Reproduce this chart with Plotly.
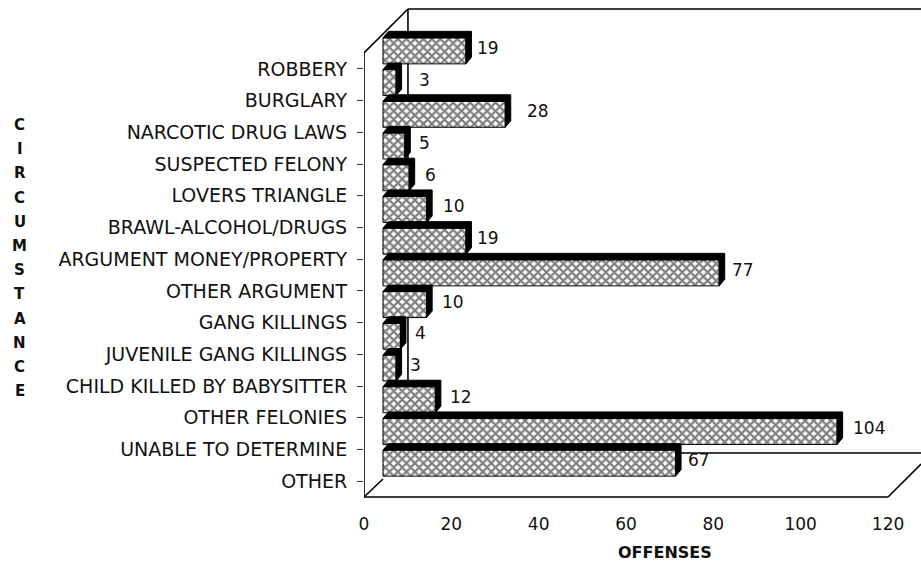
import plotly.graph_objects as go

categories = ["ROBBERY", "BURGLARY", "NARCOTIC DRUG LAWS", "SUSPECTED FELONY", "LOVERS TRIANGLE",
              "BRAWL-ALCOHOL/DRUGS", "ARGUMENT MONEY/PROPERTY", "OTHER ARGUMENT", "GANG KILLINGS",
              "JUVENILE GANG KILLINGS", "CHILD KILLED BY BABYSITTER", "OTHER FELONIES",
              "UNABLE TO DETERMINE", "OTHER"]
offenses = [19, 3, 28, 5, 6, 10, 19, 77, 10, 4, 3, 12, 104, 67]
x_ticks = [0, 20, 40, 60, 80, 100, 120]
title_letters = list("CIRCUMSTANCE")

# styling / layout (pixels in the page)
W, H = 921, 563
L, R, T, B = 363.5, 888.0, 53.0, 497.0     # front of the chart box
PL, PR, PT, PB = L, 921.0, 5.0, 500.0      # plot area, big enough for the back wall
FONT = "DejaVu Sans, sans-serif"
INK = "#111111"
label_gap = [9, 21, 20, 12, 14, 14, 9, 11, 13, 13, 12, 13, 14, 10]

px_x = (R - L) / 120
px_y = (B - T) / 14
depth_x = 19.0 / px_x
depth_y = 18.0 / px_y
wall_x = 44.0 / px_x
wall_y = 44.0 / px_y
right_x = 33.0 / px_x
ext_x = 5.5 / px_x
ext_y = 6.5 / px_y
half = 0.41
top, bot = -0.5, 13.5
y_range = [bot + (PB - B) / px_y, top - (T - PT) / px_y]
x_range = [0, (PR - PL) / px_x]

fig = go.Figure()


def seg(x0, y0, x1, y1):
    fig.add_shape(type="line", x0=x0, y0=y0, x1=x1, y1=y1, xref="x", yref="y", layer="below",
                  line=dict(color="black", width=1.6))


# box outline, back wall and floor
seg(0, top, 0, bot)
seg(0, bot, 120, bot)
seg(0, top, wall_x, top - wall_y)
seg(wall_x, top - wall_y, x_range[1], top - wall_y)
seg(wall_x, top - wall_y, wall_x, bot - wall_y)
seg(wall_x, bot - wall_y, x_range[1], bot - wall_y)
seg(0, bot, depth_x, bot - depth_y)
seg(120, bot, 120 + right_x, bot - wall_y * 33 / 44)

# bars: extrusion, then hatched face
for i, v in enumerate(offenses):
    c = i - depth_y
    xs = [depth_x, depth_x + ext_x, depth_x + v + ext_x, depth_x + v + ext_x, depth_x + v, depth_x + v, depth_x]
    ys = [c - half, c - half - ext_y, c - half - ext_y, c + half - ext_y, c + half, c - half, c - half]
    fig.add_trace(go.Scatter(x=xs, y=ys, mode="lines", fill="toself", fillcolor="black",
                             line=dict(color="black", width=1), xaxis="x", yaxis="y",
                             hoverinfo="skip", showlegend=False))
    fig.add_trace(go.Bar(x=[v], y=[c], base=[depth_x], orientation="h", width=half * 2,
                         marker=dict(color="white", line=dict(color="black", width=1),
                                     pattern=dict(shape="x", size=6, solidity=0.6,
                                                  fgcolor="black", bgcolor="white")),
                         xaxis="x", yaxis="y", hoverinfo="skip", showlegend=False))
    fig.add_annotation(x=depth_x + v, y=c, xref="x", yref="y", text=str(v), showarrow=False,
                       xanchor="left", xshift=label_gap[i], yshift=3,
                       font=dict(family=FONT, size=17, color=INK))

# vertical axis title, one letter per row
for i, ch in enumerate(title_letters):
    fig.add_annotation(xref="paper", yref="paper", x=(19 - PL) / (PR - PL),
                       y=(PB - (125 + 24.2 * i)) / (PB - PT), text=f"<b>{ch}</b>", showarrow=False,
                       xanchor="center", yanchor="middle",
                       font=dict(family=FONT, size=15, color=INK))
fig.add_annotation(xref="paper", yref="paper", x=(665 - PL) / (PR - PL), y=(PB - 552) / (PB - PT),
                   text="<b>OFFENSES</b>", showarrow=False, xanchor="center", yanchor="middle",
                   font=dict(family=FONT, size=16, color=INK))

fig.update_layout(
    width=W, height=H, autosize=False, barmode="overlay", showlegend=False,
    paper_bgcolor="white", plot_bgcolor="white",
    margin=dict(l=PL, r=W - PR, t=PT, b=H - PB, pad=0),
    font=dict(family=FONT, color=INK),
    xaxis=dict(range=x_range, tickmode="array", tickvals=x_ticks, ticks="", showgrid=False,
               zeroline=False, showline=False, tickfont=dict(size=17), ticklabelstandoff=12),
    yaxis=dict(range=y_range, tickmode="array", tickvals=list(range(14)), ticktext=categories,
               ticks="outside", ticklen=6, tickcolor="#333", showgrid=False, zeroline=False,
               showline=False, tickfont=dict(size=19), ticklabelstandoff=6),
)
fig.write_html("out.html", config={"displayModeBar": False},
               post_script="document.body.style.margin='0';document.body.style.overflow='hidden';")
